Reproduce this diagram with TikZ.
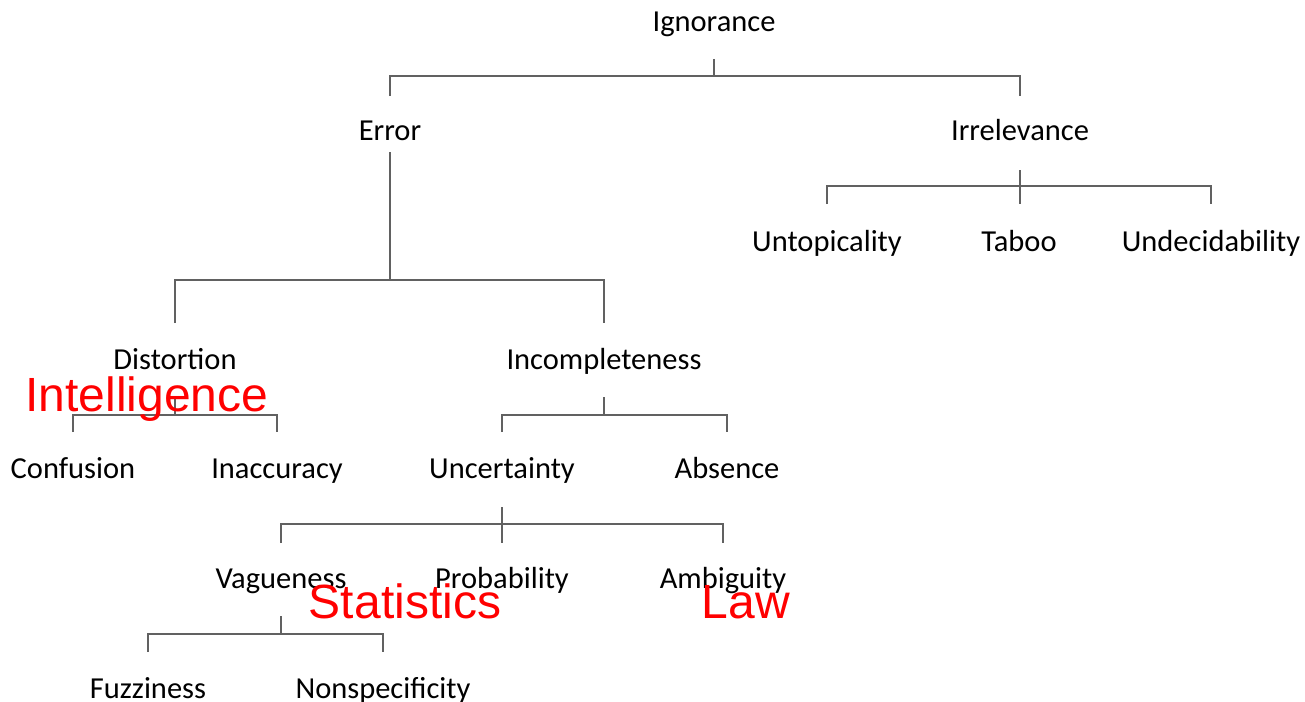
\documentclass[tikz,border=0pt]{standalone}
\usepackage{fontspec}
\setmainfont{Carlito}
\newfontfamily\fieldfont{Liberation Sans}
\usetikzlibrary{calc}
\begin{document}
\begin{tikzpicture}[x=1pt,y=-1pt,
  term/.style={font=\fontsize{30.5}{36}\selectfont, inner sep=0pt,
               text height=20.7pt, text depth=0pt},
  field/.style={font=\fieldfont\fontsize{48}{56}\selectfont, text=red,
                inner sep=0pt, text height=29pt, text depth=0pt},
  conn/.style={draw=black!62, line width=1.4pt}]
\useasboundingbox (0,0) rectangle (1305,701);

% taxonomy terms
\node[term] (ign) at (714,21)  {Ignorance};
\node[term] (err) at (390,130) {Error};
\node[term] (irr) at (1020,130) {Irrelevance};
\node[term] (unt) at (827,241) {Untopicality};
\node[term] (tab) at (1019,241) {Taboo};
\node[term] (und) at (1211,241) {Undecidability};
\node[term] (dis) at (175,359) {Distortion};
\node[term] (inc) at (604,359) {Incompleteness};
\node[term] (con) at (73,468)  {Confusion};
\node[term] (ina) at (277,468) {Inaccuracy};
\node[term] (unc) at (502,468) {Uncertainty};
\node[term] (abs) at (727,468) {Absence};
\node[term] (vag) at (281,578) {Vagueness};
\node[term] (pro) at (502,578) {Probability};
\node[term] (amb) at (723,578) {Ambiguity};
\node[term] (fuz) at (148,688) {Fuzziness};
\node[term] (non) at (383,688) {Nonspecificity};

% brackets: Ignorance -> Error, Irrelevance
\draw[conn] ($(ign)+(0,38)$) -- ($(ign)+(0,56)$);
\draw[conn] ($(err)+(0,-34)$) -- ($(err)+(0,-54)$) -- ($(irr)+(0,-54)$) -- ($(irr)+(0,-34)$);

% Irrelevance -> Untopicality, Taboo, Undecidability
\draw[conn] ($(irr)+(0,40)$) -- ($(irr)+(0,74)$);
\draw[conn] ($(unt)+(0,-37)$) -- ($(unt)+(0,-55)$) -- ($(und)+(0,-55)$) -- ($(und)+(0,-37)$);

% Error -> Distortion, Incompleteness
\draw[conn] ($(err)+(0,22)$) -- ($(err)+(0,150)$);
\draw[conn] ($(dis)+(0,-36)$) -- ($(dis)+(0,-79)$) -- ($(inc)+(0,-79)$) -- ($(inc)+(0,-36)$);

% Distortion -> Confusion, Inaccuracy
\draw[conn] ($(dis)+(0,38)$) -- ($(dis)+(0,56)$);
\draw[conn] ($(con)+(0,-36)$) -- ($(con)+(0,-53)$) -- ($(ina)+(0,-53)$) -- ($(ina)+(0,-36)$);

% Incompleteness -> Uncertainty, Absence
\draw[conn] ($(inc)+(0,38)$) -- ($(inc)+(0,56)$);
\draw[conn] ($(unc)+(0,-36)$) -- ($(unc)+(0,-53)$) -- ($(abs)+(0,-53)$) -- ($(abs)+(0,-36)$);

% Uncertainty -> Vagueness, Probability, Ambiguity
\draw[conn] ($(unc)+(0,39)$) -- ($(pro)+(0,-35)$);
\draw[conn] ($(vag)+(0,-35)$) -- ($(vag)+(0,-54)$) -- ($(amb)+(0,-54)$) -- ($(amb)+(0,-35)$);

% Vagueness -> Fuzziness, Nonspecificity
\draw[conn] ($(vag)+(0,38)$) -- ($(vag)+(0,56)$);
\draw[conn] ($(fuz)+(0,-36)$) -- ($(fuz)+(0,-54)$) -- ($(non)+(0,-54)$) -- ($(non)+(0,-36)$);

% fields of study
\node[field] (intel) at (147,397) {Intelligence};
\node[field] (stat)  at (405,604) {Statistics};
\node[field] (law)   at (746,604) {Law};
\end{tikzpicture}
\end{document}
